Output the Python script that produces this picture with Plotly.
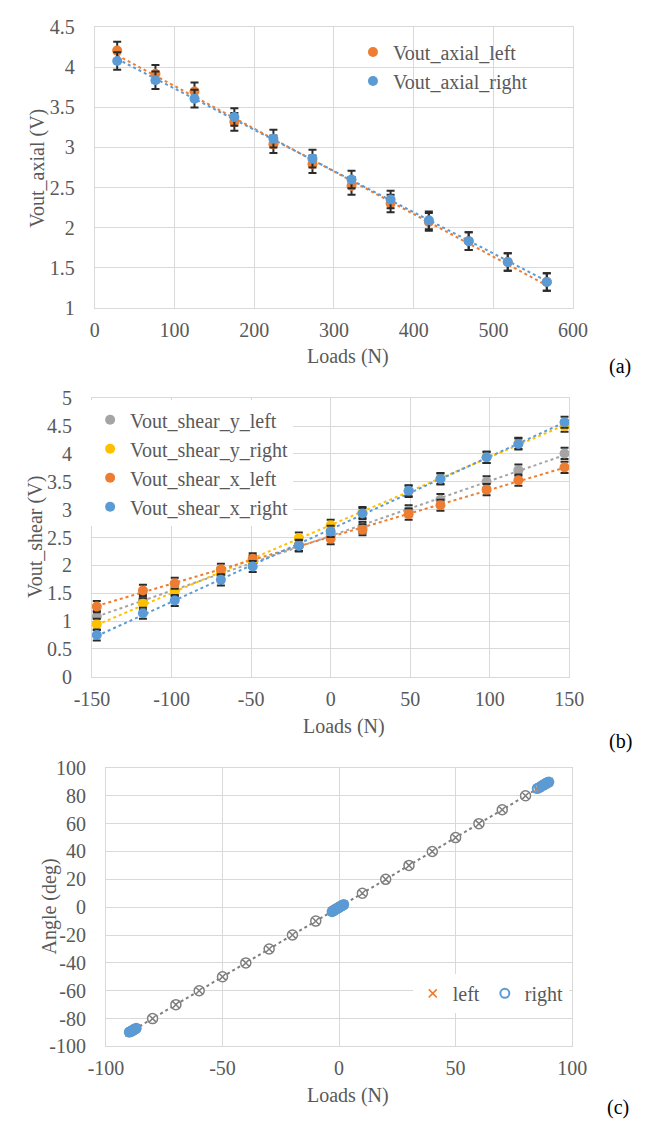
import numpy as np
import plotly.graph_objects as go

# ---------------- data ----------------
# (a) axial output vs. load
axial_loads = [28, 76, 125, 175, 224, 273, 322, 371, 419, 469, 518, 567]
vout_axial_left = [4.21, 3.92, 3.70, 3.32, 3.04, 2.79, 2.52, 2.30, 2.07, 1.83, 1.57, 1.32]
vout_axial_right = [4.08, 3.84, 3.61, 3.38, 3.11, 2.86, 2.60, 2.35, 2.09, 1.83, 1.57, 1.32]
axial_err = 0.11
axial_x_ticks = [0, 100, 200, 300, 400, 500, 600]
axial_y_ticks = [1, 1.5, 2, 2.5, 3, 3.5, 4, 4.5]

# (b) shear outputs vs. load
shear_loads = [-147, -118, -98, -69, -49, -20, 0, 20, 49, 69, 98, 118, 147]
vout_shear_y_left = [1.08, 1.38, 1.56, 1.85, 2.06, 2.36, 2.55, 2.68, 2.98, 3.18, 3.50, 3.71, 4.01]
vout_shear_y_right = [0.94, 1.31, 1.54, 1.86, 2.08, 2.49, 2.72, 2.95, 3.33, 3.56, 3.94, 4.19, 4.50]
vout_shear_x_left = [1.26, 1.55, 1.68, 1.93, 2.12, 2.36, 2.48, 2.64, 2.92, 3.08, 3.36, 3.53, 3.76]
vout_shear_x_right = [0.75, 1.14, 1.37, 1.74, 1.98, 2.35, 2.61, 2.93, 3.34, 3.55, 3.94, 4.18, 4.57]
shear_err = 0.1
shear_x_ticks = [-150, -100, -50, 0, 50, 100, 150]
shear_y_ticks = [0, 0.5, 1, 1.5, 2, 2.5, 3, 3.5, 4, 4.5, 5]

# (c) angle vs. load
angle_loads = [-90, -89.5, -89, -88.5, -88, -87.5, -87,
               -3, -2.5, -2, -1.5, -1, -0.5, 0, 0.5, 1, 1.5, 2,
               85, 86, 87, 87.5, 88, 88.5, 89, 89.5, 90]
angle_left = [-90, -89.5, -89, -88.5, -88, -87.5, -87,
              -3, -2.5, -2, -1.5, -1, -0.5, 0, 0.5, 1, 1.5, 2,
              85, 86, 87, 87.5, 88, 88.5, 89, 89.5, 90]
angle_right = [-89.8, -89.3, -88.9, -88.4, -87.9, -87.4, -86.9,
               -3.2, -2.6, -2.1, -1.6, -1.1, -0.6, -0.1, 0.4, 0.9, 1.4, 1.9,
               85.2, 86.1, 87.1, 87.6, 88.1, 88.6, 89.1, 89.6, 89.9]
ref_loads = [-80, -70, -60, -50, -40, -30, -20, -10, 10, 20, 30, 40, 50, 60, 70, 80]
ref_angles = [-80, -70, -60, -50, -40, -30, -20, -10, 10, 20, 30, 40, 50, 60, 70, 80]
angle_x_ticks = [-100, -50, 0, 50, 100]
angle_y_ticks = [-100, -80, -60, -40, -20, 0, 20, 40, 60, 80, 100]

# ---------------- styling ----------------
W, H = 646, 1129
ORANGE = "#ED7D31"
BLUE = "#5B9BD5"
GREY = "#A5A5A5"
YELLOW = "#FFC000"
TXT = "#595959"
GRID = "#D9D9D9"
FONT = "Liberation Serif, Times New Roman, serif"


def px_x(p):
    return p / W


def px_y(p):
    return 1 - p / H


def tick_text(vals):
    # plain hyphen for negatives, as in spreadsheet-style axes
    return [("%g" % v) for v in vals]


def trend(x, y, color, xa, ya):
    k, b = np.polyfit(x, y, 1)
    xs = np.array([min(x), max(x)], dtype=float)
    return go.Scatter(x=xs, y=k * xs + b, mode="lines", xaxis=xa, yaxis=ya,
                      line=dict(color=color, width=2, dash="dot"),
                      showlegend=False, hoverinfo="skip")


def points(x, y, name, color, xa, ya, legend, err=None):
    kw = {}
    if err is not None:
        kw["error_y"] = dict(type="constant", value=err, color="#2b2b2b",
                             thickness=2, width=4)
    return go.Scatter(x=x, y=y, name=name, mode="markers", xaxis=xa, yaxis=ya,
                      legend=legend,
                      marker=dict(color=color, size=10, symbol="circle"), **kw)


fig = go.Figure()

# (a)
fig.add_trace(trend(axial_loads, vout_axial_left, ORANGE, "x", "y"))
fig.add_trace(trend(axial_loads, vout_axial_right, BLUE, "x", "y"))
fig.add_trace(points(axial_loads, vout_axial_left, "Vout_axial_left", ORANGE, "x", "y", "legend", axial_err))
fig.add_trace(points(axial_loads, vout_axial_right, "Vout_axial_right", BLUE, "x", "y", "legend", axial_err))

# (b)
shear_series = [
    ("Vout_shear_y_left", vout_shear_y_left, GREY),
    ("Vout_shear_y_right", vout_shear_y_right, YELLOW),
    ("Vout_shear_x_left", vout_shear_x_left, ORANGE),
    ("Vout_shear_x_right", vout_shear_x_right, BLUE),
]
for name, vals, col in shear_series:
    fig.add_trace(trend(shear_loads, vals, col, "x2", "y2"))
for name, vals, col in shear_series:
    fig.add_trace(points(shear_loads, vals, name, col, "x2", "y2", "legend2", shear_err))

# (c)
fig.add_trace(trend(angle_loads + ref_loads, angle_right + ref_angles, "#7F7F7F", "x3", "y3"))
fig.add_trace(go.Scatter(x=angle_loads, y=angle_left, name="left", mode="markers",
                         xaxis="x3", yaxis="y3", legend="legend3",
                         marker=dict(symbol="x-thin-open", size=8, color=ORANGE,
                                     line=dict(color=ORANGE, width=1.5))))
fig.add_trace(go.Scatter(x=angle_loads, y=angle_right, name="right", mode="markers",
                         xaxis="x3", yaxis="y3", legend="legend3",
                         marker=dict(symbol="circle-open", size=9, color=BLUE,
                                     line=dict(color=BLUE, width=2))))
fig.add_trace(go.Scatter(x=ref_loads, y=ref_angles, mode="markers", showlegend=False,
                         xaxis="x3", yaxis="y3",
                         marker=dict(symbol="circle-x", size=10, color="white",
                                     line=dict(color="#7F7F7F", width=1.5))))

axis_common = dict(showgrid=True, gridcolor=GRID, gridwidth=1, zeroline=False,
                   showline=True, linecolor=GRID, mirror=True,
                   ticks="outside", tickcolor="rgba(0,0,0,0)",
                   tickfont=dict(family=FONT, size=20, color=TXT))


def xax(dom, rng, vals, anchor):
    return dict(domain=[px_x(dom[0]), px_x(dom[1])], range=rng, tickmode="array",
                tickvals=vals, ticktext=tick_text(vals), anchor=anchor, ticklen=4,
                **axis_common)


def yax(dom, rng, vals, anchor):
    return dict(domain=[px_y(dom[1]), px_y(dom[0])], range=rng, tickmode="array",
                tickvals=vals, ticktext=tick_text(vals), anchor=anchor, ticklen=15,
                **axis_common)


legend_font = dict(family=FONT, size=20, color=TXT)

fig.update_layout(
    width=W, height=H, margin=dict(l=0, r=0, t=0, b=0),
    paper_bgcolor="white", plot_bgcolor="white",
    font=dict(family=FONT, size=20, color=TXT),
    xaxis=xax((81, 585), [0, 600], axial_x_ticks, "y"),
    yaxis=yax((16.7, 302.5), [1, 4.5], axial_y_ticks, "x"),
    xaxis2=xax((78, 581), [-150, 150], shear_x_ticks, "y2"),
    yaxis2=yax((395, 679), [0, 5], shear_y_ticks, "x2"),
    xaxis3=xax((92.7, 584), [-100, 100], angle_x_ticks, "y3"),
    yaxis3=yax((772, 1056), [-100, 100], angle_y_ticks, "x3"),
    legend=dict(x=px_x(353), y=px_y(22), xanchor="left", yanchor="top",
                bgcolor="rgba(255,255,255,0)", font=legend_font, itemwidth=30),
    legend2=dict(x=px_x(76), y=px_y(397), xanchor="left", yanchor="top",
                 bgcolor="white", font=legend_font, itemwidth=30),
    legend3=dict(x=px_x(416), y=px_y(982), xanchor="left", yanchor="top",
                 orientation="h", bgcolor="white", font=legend_font, itemwidth=30),
)

# axis titles and panel tags
labels = [
    ("Vout_axial (V)", 21, 160, -90),
    ("Loads (N)", 348, 352, 0),
    ("(a)", 634, 363, 0),
    ("Vout_shear (V)", 18.5, 537, -90),
    ("Loads (N)", 344, 730, 0),
    ("(b)", 635, 745, 0),
    ("Angle (deg)", 33, 913, -90),
    ("Loads (N)", 348, 1106, 0),
    ("(c)", 632, 1118, 0),
]
for text, x, y, ang in labels:
    color = "black" if text.startswith("(") else TXT
    fig.add_annotation(text=text, x=px_x(x), y=px_y(y), xref="paper", yref="paper",
                       showarrow=False, textangle=ang, xanchor="center", yanchor="middle",
                       font=dict(family=FONT, size=20, color=color))

fig.write_html("out.html")
